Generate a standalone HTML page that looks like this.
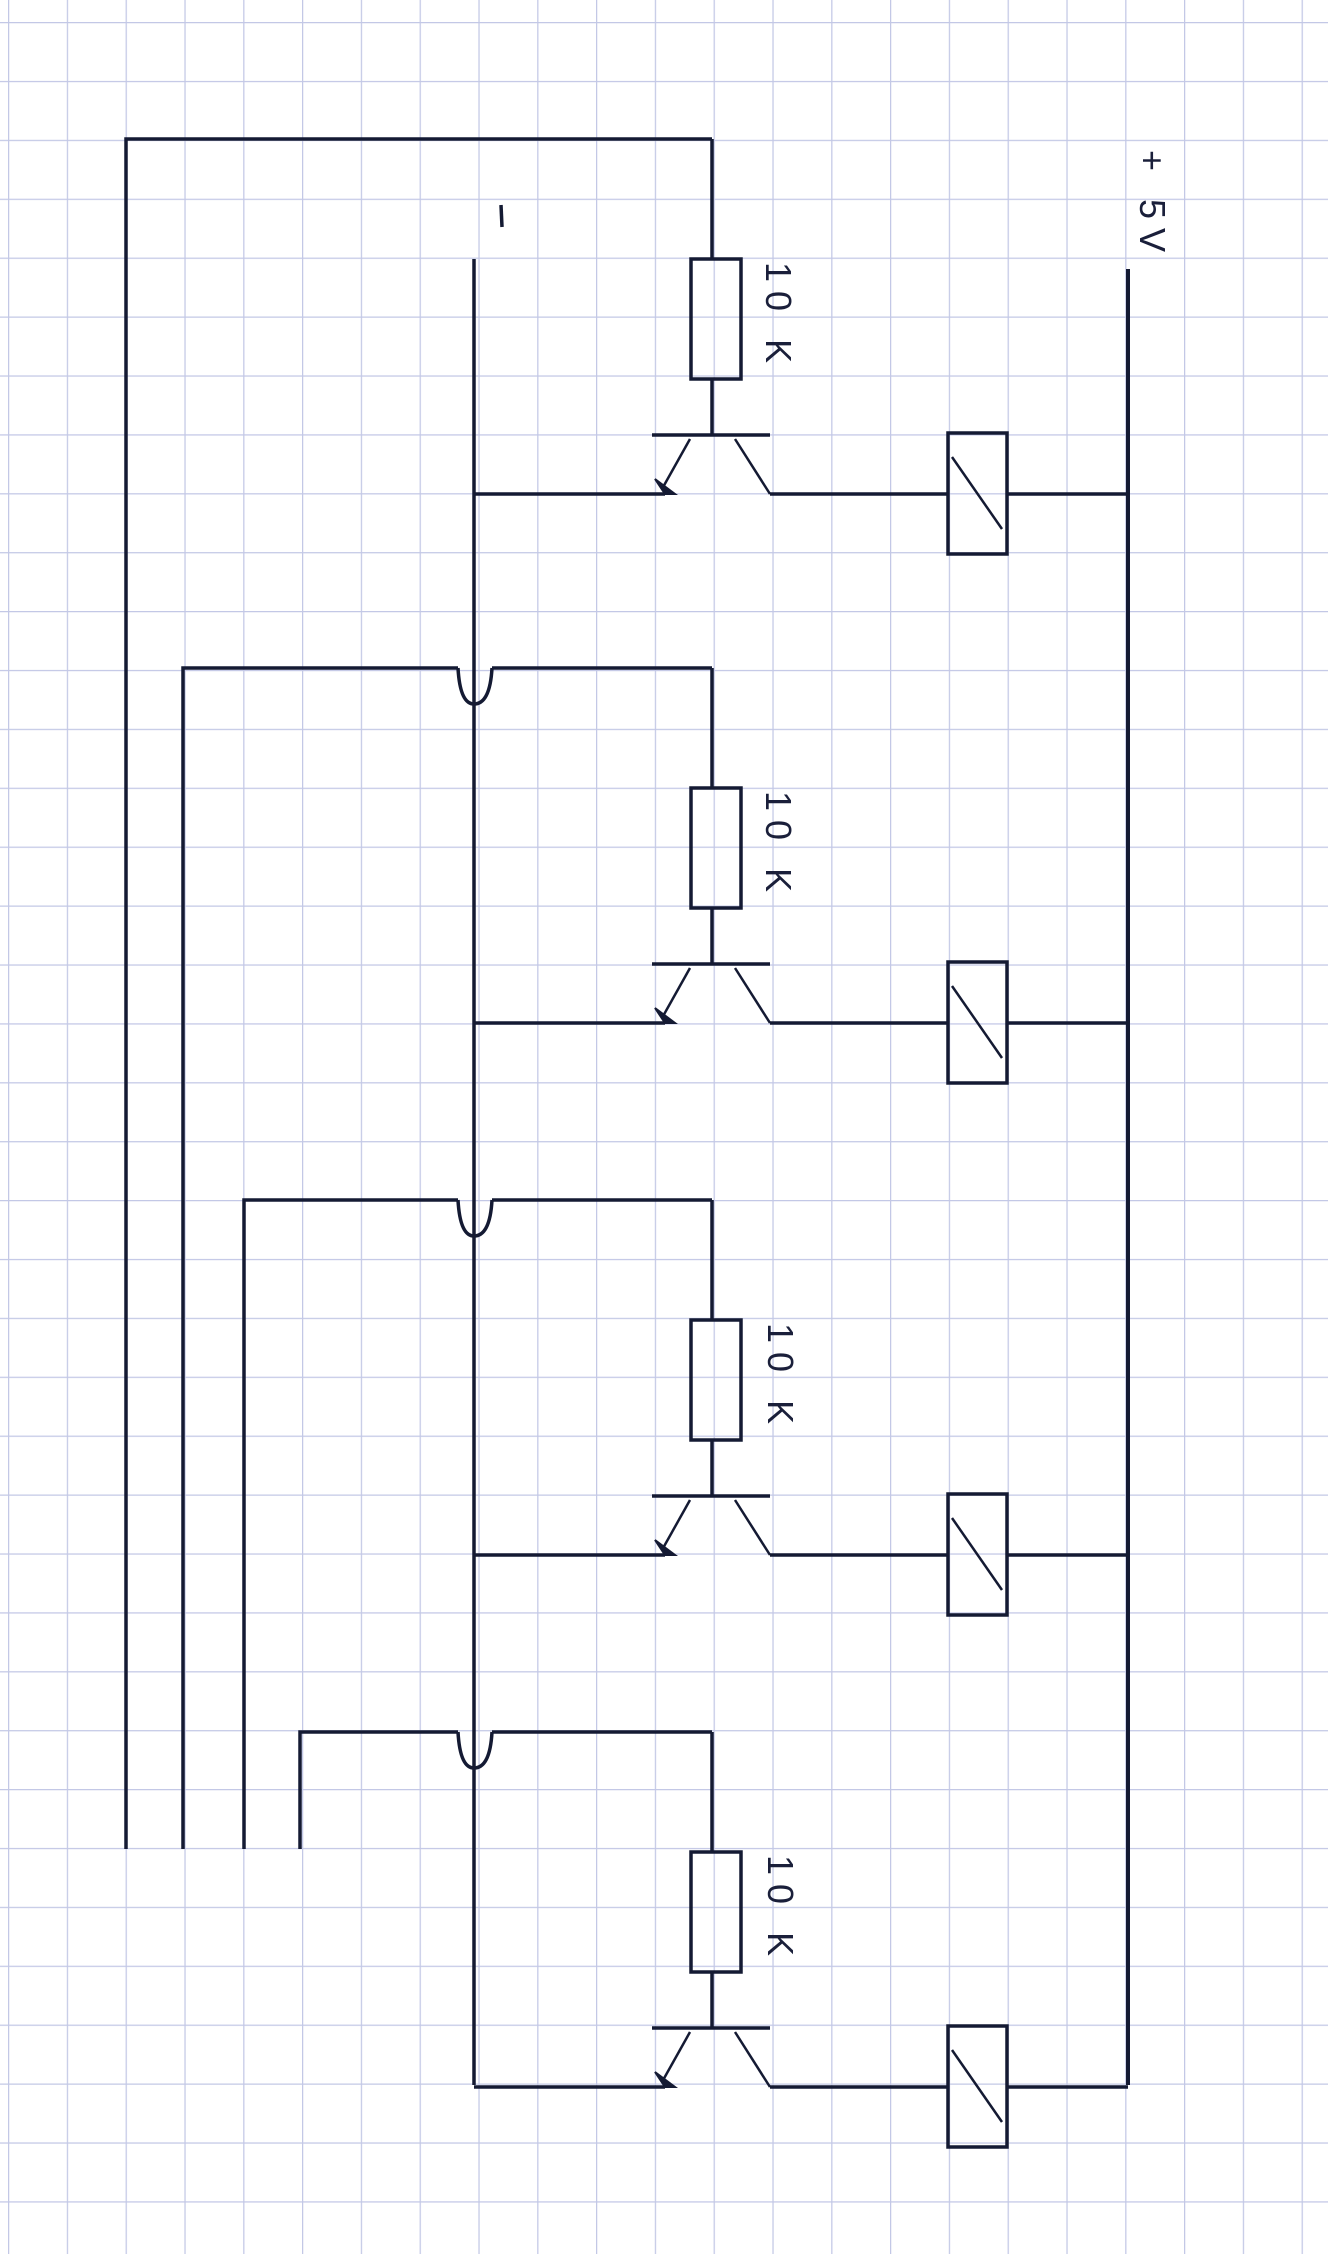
<!DOCTYPE html>
<html><head><meta charset="utf-8"><style>
html,body{margin:0;padding:0;background:#fff;}
svg{display:block;}
text{font-family:"Liberation Sans",sans-serif;fill:#1a1f3a;}
</style></head><body>
<svg width="1328" height="2254" viewBox="0 0 1328 2254" xmlns="http://www.w3.org/2000/svg">
<defs>
<pattern id="g" x="8" y="22" width="58.8" height="58.9" patternUnits="userSpaceOnUse">
<path d="M0 0V58.9M0 0H58.8" stroke="#c3c8e6" stroke-width="2.5" fill="none"/>
</pattern>
<g id="stage" stroke="#141a33" stroke-width="3.5" fill="none">
<line x1="712" y1="0" x2="712" y2="120"/>
<rect x="691" y="120" width="50" height="120"/>
<line x1="712" y1="240" x2="712" y2="296"/>
<line x1="652" y1="296" x2="770" y2="296"/>
<line x1="690" y1="300" x2="662" y2="350" stroke-width="2.5"/>
<polygon points="655,340 665,355 675,355" fill="#141a33" stroke-width="2"/>
<line x1="474" y1="355" x2="665" y2="355"/>
<line x1="735" y1="300" x2="770" y2="355" stroke-width="2.5"/>
<line x1="770" y1="355" x2="948" y2="355"/>
<rect x="948" y="294" width="59" height="121"/>
<line x1="952" y1="318" x2="1002" y2="390" stroke-width="2.5"/>
<line x1="1007" y1="355" x2="1128" y2="355"/>
</g>
</defs>
<rect width="1328" height="2254" fill="url(#g)"/>
<g stroke="#141a33" stroke-width="3.5" fill="none">
<polyline points="126,1849 126,139 712,139"/>
<polyline points="183,1849 183,668 458,668"/>
<path d="M458 668 Q460 704 474 704 Q490 704 492 668"/>
<line x1="492" y1="668" x2="712" y2="668"/>
<polyline points="244,1849 244,1200 458,1200"/>
<path d="M458 1200 Q460 1236 474 1236 Q490 1236 492 1200"/>
<line x1="492" y1="1200" x2="712" y2="1200"/>
<polyline points="300,1849 300,1732 458,1732"/>
<path d="M458 1732 Q460 1768 474 1768 Q490 1768 492 1732"/>
<line x1="492" y1="1732" x2="712" y2="1732"/>
<line x1="474" y1="259" x2="474" y2="2085"/>
<line x1="1128" y1="269" x2="1128" y2="2085" stroke-width="4"/>
</g>
<use href="#stage" transform="translate(0,139)"/>
<use href="#stage" transform="translate(0,668)"/>
<use href="#stage" transform="translate(0,1200)"/>
<use href="#stage" transform="translate(0,1732)"/>
<g font-size="36">
<text transform="translate(766,262) rotate(90)" letter-spacing="9">10 K</text>
<text transform="translate(766,791) rotate(90)" letter-spacing="9">10 K</text>
<text transform="translate(768,1323) rotate(90)" letter-spacing="9">10 K</text>
<text transform="translate(768,1855) rotate(90)" letter-spacing="9">10 K</text>
<text transform="translate(1140,150) rotate(90)" letter-spacing="9">+ 5V</text>
</g>
<line x1="501" y1="205" x2="502" y2="227" stroke="#141a33" stroke-width="3.5"/>
</svg>
</body></html>
